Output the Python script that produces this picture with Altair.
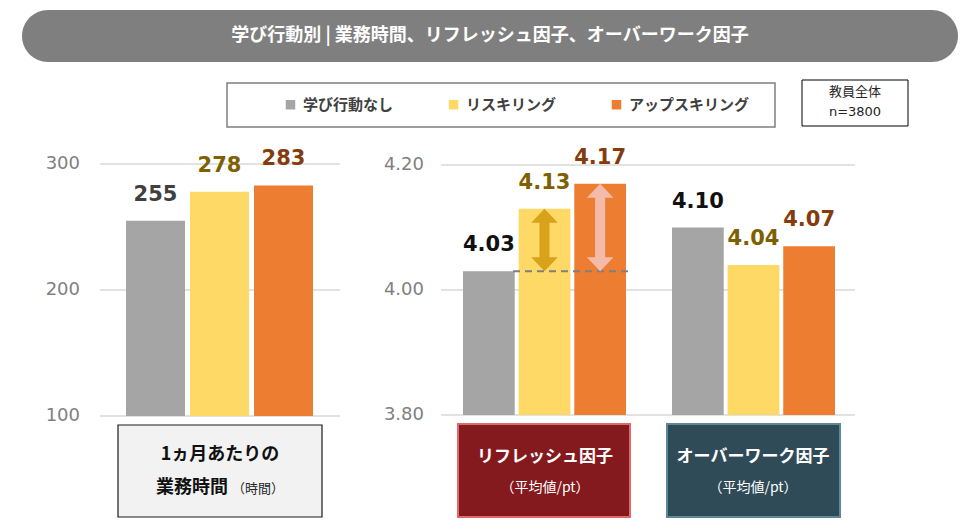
import altair as alt
import pandas as pd

# ---------------- data ----------------
series = ["学び行動なし", "リスキリング", "アップスキリング"]
hours = [255, 278, 283]                      # 1ヵ月あたりの業務時間
groups = ["リフレッシュ因子", "オーバーワーク因子"]
refresh = [4.03, 4.13, 4.17]
overwork = [4.10, 4.04, 4.07]
hour_ticks = [100, 200, 300]
hour_tick_labels = ["100", "200", "300"]
factor_ticks = [3.80, 4.00, 4.20]
factor_tick_labels = ["3.80", "4.00", "4.20"]

# ---------------- styles ----------------
bar_colors = ["#A5A5A5", "#FFD966", "#ED7D31"]
left_label_colors = ["#404040", "#7F6000", "#843C0C"]
right_label_colors = ["#111111", "#7F6000", "#843C0C"]
arrow_colors = ["#D9A21B", "#F5BBAA"]
JP = "Noto Sans CJK JP"
NUM = "DejaVu Sans"

left_df = pd.DataFrame({"series": series, "value": hours})
right_rows = []
for g, vals in zip(groups, [refresh, overwork]):
    for s, v in zip(series, vals):
        right_rows.append({"group": g, "series": s, "value": v})
right_df = pd.DataFrame(right_rows)
arrow_df = pd.DataFrame({
    "group": [groups[0]] * 2,
    "series": series[1:],
    "value": refresh[1:],
    "base": [refresh[0]] * 2,
})
base_df = pd.DataFrame({"base": [refresh[0]]})
lt_df = pd.DataFrame({"tick": hour_ticks, "label": hour_tick_labels})
rt_df = pd.DataFrame({"tick": factor_ticks, "label": factor_tick_labels})

# ---------------- scales ----------------
XL = alt.Scale(domain=series, range=[118, 305], paddingInner=0.078, paddingOuter=0)
YL = alt.Scale(domain=[100, 300], range=[408, 156], nice=False, zero=False)
XR = alt.Scale(domain=groups, range=[455, 827], paddingInner=0.22, paddingOuter=0)
XO = alt.Scale(domain=series, paddingInner=0.07, paddingOuter=0)
YR = alt.Scale(domain=[3.8, 4.2], range=[407, 157], nice=False, zero=False)
COLOR = alt.Color(
    "series:N",
    scale=alt.Scale(domain=series, range=bar_colors),
    legend=alt.Legend(
        title=None, orient="none", legendX=275, legendY=89, direction="horizontal",
        symbolType="square", symbolSize=90, symbolStrokeWidth=0, labelOffset=5,
        labelFont=JP, labelFontSize=15, labelFontWeight="bold", labelColor="#404040",
        columnPadding=52, padding=0,
    ),
)

# ---------------- left panel ----------------
l_grid = alt.Chart(lt_df).mark_rule(color="#D9D9D9", strokeWidth=1.5).encode(
    y=alt.Y("tick:Q", scale=YL, axis=None), x=alt.value(92), x2=alt.value(332))
l_ticks = alt.Chart(lt_df).mark_text(align="right", baseline="middle", fontSize=18,
                                      color="#808080", font=NUM).encode(
    y=alt.Y("tick:Q", scale=YL, axis=None), x=alt.value(72), text="label:N")
l_bars = alt.Chart(left_df).mark_bar().encode(
    x=alt.X("series:N", scale=XL, axis=None, sort=series),
    y=alt.Y("value:Q", scale=YL, axis=None),
    y2=alt.datum(100),
    color=COLOR,
)
l_labels = [
    alt.Chart(left_df).transform_filter(alt.datum.series == s).mark_text(
        dy=-26, fontSize=21, fontWeight="bold", color=c, font=NUM, baseline="middle"
    ).encode(
        x=alt.X("series:N", scale=XL, axis=None, sort=series),
        y=alt.Y("value:Q", scale=YL, axis=None),
        text=alt.Text("value:Q", format="d"),
    )
    for s, c in zip(series, left_label_colors)
]
left = alt.layer(l_grid, l_ticks, l_bars, *l_labels)

# ---------------- right panel ----------------
r_grid = alt.Chart(rt_df).mark_rule(color="#D9D9D9", strokeWidth=1.5).encode(
    y=alt.Y("tick:Q", scale=YR, axis=None), x=alt.value(433), x2=alt.value(847))
r_ticks = alt.Chart(rt_df).mark_text(align="right", baseline="middle", fontSize=18,
                                      color="#808080", font=NUM).encode(
    y=alt.Y("tick:Q", scale=YR, axis=None), x=alt.value(416), text="label:N")
RX = alt.X("group:N", scale=XR, axis=None, sort=groups)
RXO = alt.XOffset("series:N", scale=XO, sort=series)
r_bars = alt.Chart(right_df).mark_bar().encode(
    x=RX, xOffset=RXO,
    y=alt.Y("value:Q", scale=YR, axis=None),
    y2=alt.datum(3.8),
    color=COLOR,
)
r_dash = alt.Chart(base_df).mark_rule(color="#7F7F7F", strokeWidth=2, strokeDash=[7, 5]).encode(
    y=alt.Y("base:Q", scale=YR, axis=None), x=alt.value(505), x2=alt.value(621))
r_arrows = []
for s, c in zip(series[1:], arrow_colors):
    d = alt.Chart(arrow_df).transform_filter(alt.datum.series == s)
    r_arrows.append(d.mark_rule(color=c, strokeWidth=10, yOffset=8, y2Offset=-8).encode(
        x=RX, xOffset=RXO, y=alt.Y("value:Q", scale=YR, axis=None), y2="base:Q"))
    r_arrows.append(d.mark_point(shape="M0,0L0.95,1L-0.95,1Z", filled=True, size=784,
                                 color=c, opacity=1, strokeWidth=0).encode(
        x=RX, xOffset=RXO, y=alt.Y("value:Q", scale=YR, axis=None)))
    r_arrows.append(d.mark_point(shape="M0,0L0.95,-1L-0.95,-1Z", filled=True, size=784,
                                 color=c, opacity=1, strokeWidth=0).encode(
        x=RX, xOffset=RXO, y=alt.Y("base:Q", scale=YR, axis=None)))
r_labels = [
    alt.Chart(right_df).transform_filter(alt.datum.series == s).mark_text(
        dy=-26, fontSize=21, fontWeight="bold", color=c, font=NUM, baseline="middle"
    ).encode(
        x=RX, xOffset=RXO,
        y=alt.Y("value:Q", scale=YR, axis=None),
        text=alt.Text("value:Q", format=".2f"),
    )
    for s, c in zip(series, right_label_colors)
]
right = alt.layer(r_grid, r_ticks, r_bars, r_dash, *r_arrows, *r_labels)

# ---------------- decorations ----------------
one = alt.Data(values=[{"k": 0}])


def box(x, x2, y, y2, **kw):
    return alt.Chart(one).mark_rect(**kw).encode(
        x=alt.value(x), x2=alt.value(x2), y=alt.value(y), y2=alt.value(y2))


def label(x, y, text, **kw):
    kw.setdefault("font", JP)
    kw.setdefault("baseline", "middle")
    return alt.Chart(one).mark_text(text=text, **kw).encode(x=alt.value(x), y=alt.value(y))


decor = [
    box(14, 950, 2, 54, color="#7F7F7F", cornerRadius=26),
    label(482, 28, "学び行動別 | 業務時間、リフレッシュ因子、オーバーワーク因子",
          fontSize=18, fontWeight="bold", color="white"),
    box(219, 767, 75, 119, fill="white", stroke="#7F7F7F", strokeWidth=1.5),
    box(794, 900, 72, 118, fill="white", stroke="#000000", strokeWidth=1),
    label(847, 84, "教員全体", fontSize=13, color="#262626"),
    label(847, 104, "n=3800", fontSize=13, color="#262626", font=NUM),
    box(110, 314, 417, 509, fill="#F2F2F2", stroke="#1A1A1A", strokeWidth=1.2),
    label(212, 447, "1ヵ月あたりの", fontSize=18, fontWeight="bold", color="#111111"),
    label(220, 480, "業務時間", fontSize=18, fontWeight="bold", color="#111111", align="right"),
    label(224, 481, "（時間）", fontSize=13, color="#262626", align="left"),
    box(450, 622, 416, 509, fill="#841A1E", stroke="#E06A6A", strokeWidth=2),
    label(537, 449, "リフレッシュ因子", fontSize=17, fontWeight="bold", color="white"),
    label(537, 480, "（平均値/pt）", fontSize=14, color="white"),
    box(659, 832, 416, 509, fill="#2F4B57", stroke="#5E8898", strokeWidth=2),
    label(745, 449, "オーバーワーク因子", fontSize=17, fontWeight="bold", color="white"),
    label(745, 480, "（平均値/pt）", fontSize=14, color="white"),
]

chart = alt.layer(*decor, left, right).resolve_scale(
    x="independent", y="independent"
).properties(
    width=964, height=514, padding=0,
    autosize=alt.AutoSizeParams(type="none"),
).configure_view(stroke=None)

chart.save("out.html", embed_options={"renderer": "svg", "actions": False})
